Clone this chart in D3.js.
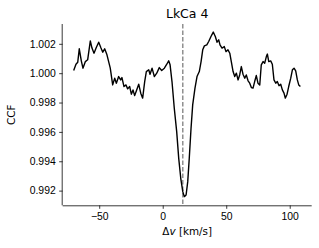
<!DOCTYPE html>
<html>
<head>
<meta charset="utf-8">
<script src="https://d3js.org/d3.v7.min.js"></script>
<style>
  body { margin: 0; background: #fff; }
  svg { display: block; font-family: "DejaVu Sans", sans-serif; }
  .axis text { font-size: 10.4px; fill: #000; }
  .axis path, .axis line { stroke: #222; stroke-width: 0.9px; }
</style>
</head>
<body>
<svg id="chart" width="319" height="248"></svg>
<script>
// Cross-correlation function
var velocity = [-70.1, -68.3, -66.9, -65.7, -64.1, -62.8, -60.9, -59.1, -57.0, -55.7,
  -54.1, -52.3, -50.4, -48.6, -47.2, -45.7, -43.9, -41.3, -39.4, -37.8,
  -36.5, -34.7, -33.1, -32.1, -30.5, -28.9, -27.6, -26.0, -24.7, -23.4,
  -22.1, -20.5, -18.9, -17.3, -15.8, -14.2, -12.9, -11.0, -10.0, -8.4,
  -6.6, -4.7, -2.7, -0.8, 1.3, 3.2, 4.7, 5.8, 7.3, 9.1,
  11.0, 12.6, 14.2, 15.8, 17.0, 18.4, 19.7, 20.9, 22.3, 23.6,
  25.4, 27.0, 28.8, 30.2, 31.5, 32.8, 34.7, 36.2, 38.0, 39.8,
  41.4, 42.8, 44.1, 45.1, 46.7, 48.5, 49.8, 51.4, 52.8, 54.0,
  55.4, 56.7, 58.0, 59.3, 60.6, 61.9, 63.2, 64.6, 65.8, 67.2,
  68.5, 69.8, 71.1, 72.4, 73.7, 75.0, 76.4, 77.6, 79.0, 80.3,
  81.6, 82.4, 83.5, 85.0, 86.3, 87.6, 89.0, 90.2, 91.6, 92.9,
  94.2, 95.5, 96.5, 97.9, 99.2, 100.8, 102.1, 103.4, 104.7, 106.0,
  107.1, 108.4];
var ccf = [1.00018, 1.00061, 1.00075, 1.00166, 1.00084, 1.00034, 1.00079, 1.00091, 1.00220, 1.00171,
  1.00136, 1.00175, 1.00211, 1.00171, 1.00143, 1.00166, 1.00125, 1.00034, 0.99920, 0.99966,
  0.99932, 0.99977, 0.99954, 0.99970, 0.99909, 0.99920, 0.99893, 0.99909, 0.99857, 0.99886,
  0.99847, 0.99886, 0.99925, 0.99864, 0.99830, 0.99943, 1.00011, 1.00023, 0.99993, 1.00034,
  0.99977, 1.00000, 1.00038, 1.00018, 1.00034, 1.00061, 1.00084, 1.00057, 0.99943, 0.99761,
  0.99602, 0.99420, 0.99284, 0.99193, 0.99159, 0.99170, 0.99261, 0.99420, 0.99625, 0.99784,
  0.99898, 0.99977, 1.00011, 1.00079, 1.00159, 1.00186, 1.00193, 1.00216, 1.00250, 1.00280,
  1.00250, 1.00211, 1.00227, 1.00193, 1.00171, 1.00181, 1.00147, 1.00159, 1.00136, 1.00079,
  1.00011, 0.99977, 1.00000, 0.99954, 0.99988, 1.00045, 0.99993, 0.99966, 0.99988, 0.99948,
  0.99932, 0.99902, 0.99898, 0.99943, 0.99984, 0.99932, 0.99920, 1.00057, 1.00079, 1.00068,
  1.00113, 1.00130, 1.00079, 1.00084, 1.00061, 0.99954, 0.99932, 0.99943, 0.99915, 0.99925,
  0.99886, 0.99864, 0.99830, 0.99857, 0.99909, 0.99966, 1.00023, 1.00034, 1.00016, 0.99954,
  0.99920, 0.99909];
var systemVelocity = 15.8;
var xTicks = [-50, 0, 50, 100];
var yTicks = [0.992, 0.994, 0.996, 0.998, 1.000, 1.002];
var title = "LkCa 4";

var svg = d3.select("#chart");
var plotLeft = 62.7, plotRight = 311.7, plotTop = 24, plotBottom = 205.3;

var x = d3.scaleLinear().domain([-78.75, 117.3]).range([plotLeft, plotRight]);
var y = d3.scaleLinear().domain([0.99100, 1.00335]).range([plotBottom, plotTop]);

// axes
svg.append("g")
  .attr("class", "axis")
  .attr("transform", `translate(0,${plotBottom})`)
  .call(d3.axisBottom(x).tickValues(xTicks).tickSize(3.5).tickPadding(3.5)
    .tickFormat(d => d3.format("d")(d).replace("-", "\u2212")))
  .call(g => g.select(".domain").attr("d", `M${plotLeft},0.5H${plotRight}`));

svg.append("g")
  .attr("class", "axis")
  .attr("transform", `translate(${plotLeft},0)`)
  .call(d3.axisLeft(y).tickValues(yTicks).tickSize(3.5).tickPadding(3.5)
    .tickFormat(d3.format(".3f")))
  .call(g => g.select(".domain").attr("d", `M-0.5,${plotTop}V${plotBottom}`));

// system velocity marker
svg.append("line")
  .attr("x1", x(systemVelocity)).attr("x2", x(systemVelocity))
  .attr("y1", plotTop).attr("y2", plotBottom)
  .attr("stroke", "#888")
  .attr("stroke-width", 1.4)
  .attr("stroke-dasharray", "4.5,2");

// CCF curve
var line = d3.line()
  .x((d, i) => x(velocity[i]))
  .y(d => y(d));

svg.append("path")
  .datum(ccf)
  .attr("d", line)
  .attr("fill", "none")
  .attr("stroke", "#000")
  .attr("stroke-width", 1.4)
  .attr("stroke-linejoin", "round");

// labels
svg.append("text")
  .attr("x", (plotLeft + plotRight) / 2)
  .attr("y", 18.3)
  .attr("text-anchor", "middle")
  .attr("font-size", "12.5px")
  .text(title);

var xl = svg.append("text")
  .attr("x", (plotLeft + plotRight) / 2)
  .attr("y", 235)
  .attr("text-anchor", "middle")
  .attr("font-size", "10.4px");
xl.append("tspan").text("\u0394");
xl.append("tspan").attr("font-style", "italic").text("v");
xl.append("tspan").text(" [km/s]");

svg.append("text")
  .attr("transform", `translate(15,${(plotTop + plotBottom) / 2}) rotate(-90)`)
  .attr("text-anchor", "middle")
  .attr("font-size", "10.4px")
  .text("CCF");
</script>
</body>
</html>
